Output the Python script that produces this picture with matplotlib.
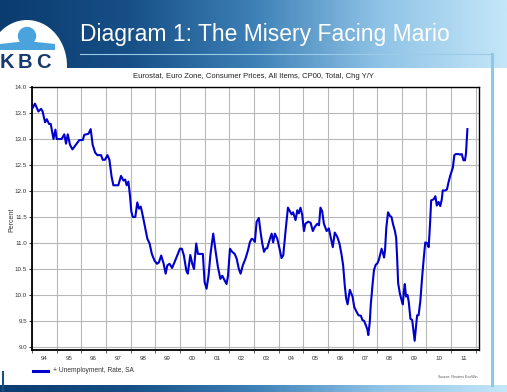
import numpy as np
import matplotlib
matplotlib.use("Agg")
import matplotlib.pyplot as plt
from matplotlib.colors import LinearSegmentedColormap
from matplotlib.patches import Circle, Rectangle, Ellipse, Polygon

plt.rcParams['font.family'] = ['Liberation Sans', 'DejaVu Sans']

# values (decimal year, percent)
years = [1994.03, 1994.12, 1994.26, 1994.37, 1994.43, 1994.53, 1994.60, 1994.69, 1994.76, 1994.87,
         1994.95, 1995.00, 1995.20, 1995.31, 1995.38, 1995.45, 1995.54, 1995.64, 1995.75, 1995.92,
         1996.06, 1996.12, 1996.29, 1996.38, 1996.46, 1996.56, 1996.65, 1996.80, 1996.87, 1996.96,
         1997.06, 1997.14, 1997.23, 1997.30, 1997.50, 1997.61, 1997.71, 1997.78, 1997.84, 1997.91,
         1997.97, 1998.03, 1998.09, 1998.19, 1998.27, 1998.34, 1998.41, 1998.46, 1998.57, 1998.68,
         1998.77, 1998.86, 1998.97, 1999.07, 1999.15, 1999.24, 1999.34, 1999.42, 1999.49, 1999.58,
         1999.68, 1999.78, 1999.89, 2000.00, 2000.08, 2000.16, 2000.26, 2000.32, 2000.42, 2000.50,
         2000.57, 2000.66, 2000.73, 2000.80, 2000.93, 2001.00, 2001.08, 2001.16, 2001.24, 2001.35,
         2001.45, 2001.54, 2001.64, 2001.72, 2001.78, 2001.89, 2001.95, 2002.03, 2002.12, 2002.22,
         2002.30, 2002.39, 2002.46, 2002.55, 2002.66, 2002.76, 2002.84, 2002.91, 2002.97, 2003.04,
         2003.11, 2003.20, 2003.27, 2003.34, 2003.41, 2003.47, 2003.54, 2003.65, 2003.72, 2003.78,
         2003.85, 2003.95, 2004.04, 2004.12, 2004.19, 2004.28, 2004.38, 2004.46, 2004.53, 2004.59,
         2004.69, 2004.76, 2004.82, 2004.89, 2004.96, 2005.03, 2005.09, 2005.20, 2005.30, 2005.39,
         2005.47, 2005.57, 2005.64, 2005.70, 2005.77, 2005.84, 2005.95, 2006.04, 2006.11, 2006.20,
         2006.28, 2006.38, 2006.47, 2006.55, 2006.62, 2006.68, 2006.74, 2006.80, 2006.89, 2007.00,
         2007.07, 2007.16, 2007.24, 2007.34, 2007.40, 2007.47, 2007.54, 2007.60, 2007.64, 2007.70,
         2007.74, 2007.81, 2007.87, 2007.94, 2008.01, 2008.07, 2008.14, 2008.18, 2008.23, 2008.28,
         2008.32, 2008.37, 2008.44, 2008.52, 2008.58, 2008.65, 2008.72, 2008.77, 2008.81, 2008.85,
         2008.92, 2008.99, 2009.04, 2009.08, 2009.12, 2009.17, 2009.23, 2009.28, 2009.35, 2009.42,
         2009.48, 2009.52, 2009.58, 2009.62, 2009.68, 2009.75, 2009.82, 2009.89, 2009.95, 2010.02,
         2010.09, 2010.15, 2010.19, 2010.29, 2010.36, 2010.42, 2010.49, 2010.56, 2010.62, 2010.66,
         2010.76, 2010.83, 2010.89, 2010.96, 2011.03, 2011.07, 2011.13, 2011.19, 2011.30, 2011.36,
         2011.43, 2011.50, 2011.56, 2011.60, 2011.66]
unemployment = [13.60, 13.68, 13.53, 13.58, 13.53, 13.32, 13.38, 13.29, 13.29, 13.00,
                13.18, 13.00, 13.00, 13.09, 12.91, 13.09, 12.89, 12.80, 12.87, 12.98,
                12.98, 13.08, 13.10, 13.19, 12.89, 12.74, 12.69, 12.69, 12.60, 12.60,
                12.69, 12.60, 12.27, 12.11, 12.11, 12.29, 12.20, 12.22, 12.11, 12.18,
                11.93, 11.60, 11.50, 11.50, 11.78, 11.66, 11.70, 11.60, 11.34, 11.08,
                10.99, 10.79, 10.66, 10.60, 10.63, 10.76, 10.60, 10.41, 10.57, 10.60,
                10.52, 10.63, 10.76, 10.89, 10.89, 10.76, 10.47, 10.41, 10.77, 10.60,
                10.50, 10.99, 10.79, 10.79, 10.79, 10.25, 10.12, 10.37, 10.79, 11.18,
                10.83, 10.54, 10.31, 10.37, 10.31, 10.21, 10.37, 10.89, 10.83, 10.79,
                10.70, 10.50, 10.41, 10.57, 10.70, 10.86, 11.02, 11.08, 11.07, 11.02,
                11.41, 11.48, 11.21, 10.99, 10.83, 10.89, 10.90, 11.08, 11.18, 11.01,
                11.18, 11.08, 10.89, 10.71, 10.76, 11.21, 11.68, 11.61, 11.55, 11.59,
                11.44, 11.63, 11.57, 11.68, 11.54, 11.23, 11.37, 11.41, 11.39, 11.23,
                11.31, 11.37, 11.34, 11.68, 11.61, 11.37, 11.23, 11.28, 11.12, 10.92,
                11.20, 11.12, 10.99, 10.79, 10.57, 10.21, 9.94, 9.82, 10.10, 9.97,
                9.77, 9.68, 9.61, 9.60, 9.52, 9.50, 9.42, 9.34, 9.23, 9.48,
                9.81, 10.19, 10.48, 10.58, 10.61, 10.68, 10.81, 10.89, 10.81, 10.72,
                10.87, 11.29, 11.59, 11.52, 11.50, 11.35, 11.23, 11.10, 10.71, 10.23,
                10.03, 9.90, 9.82, 10.06, 10.21, 9.97, 10.00, 9.87, 9.54, 9.52,
                9.29, 9.12, 9.42, 9.61, 9.61, 9.88, 10.32, 10.71, 11.01, 11.00,
                10.92, 11.42, 11.82, 11.84, 11.90, 11.72, 11.79, 11.71, 11.84, 12.01,
                12.01, 12.03, 12.16, 12.29, 12.39, 12.45, 12.69, 12.71, 12.71, 12.70,
                12.71, 12.59, 12.59, 12.71, 13.19]

year_labels = ['94', '95', '96', '97', '98', '99', '00', '01', '02', '03',
               '04', '05', '06', '07', '08', '09', '10', '11']
y_ticks = [9.0, 9.5, 10.0, 10.5, 11.0, 11.5, 12.0, 12.5, 13.0, 13.5, 14.0]

W, H = 507, 392
fig = plt.figure(figsize=(W / 100, H / 100), dpi=100)

# background layer in pixel coordinates
bg = fig.add_axes([0, 0, 1, 1], zorder=0)
bg.set_xlim(0, W)
bg.set_ylim(H, 0)
bg.axis('off')

banner = LinearSegmentedColormap.from_list('banner', ['#0b3c70', '#164f86', '#3d80b6', '#8fc3e6', '#c4e6f8'])
grad = np.linspace(0, 1, 300).reshape(1, -1)
bg.imshow(grad, cmap=banner, extent=[0, W, 68, 0], aspect='auto', zorder=1)
bg.imshow(grad, cmap=banner, extent=[0, W, H, 385], aspect='auto', zorder=1)

# logo area
bg.add_patch(Ellipse((27, 66), 80, 92, fc='white', ec='none', zorder=2))
bg.add_patch(Rectangle((0, 68), 70, 10, fc='white', ec='none', zorder=2))
bg.add_patch(Circle((27, 36), 9.2, fc='#4aa3dc', ec='none', zorder=3))
bg.add_patch(Polygon([(0, 44), (18, 42), (36, 42), (55, 44), (55, 50), (0, 50)],
                     fc='#4aa3dc', ec='none', zorder=3))
for letter, lx in zip('KBC', [-0.5, 17.5, 36]):
    bg.text(lx, 68, letter, fontsize=14.5, fontweight='bold', color='#17396b',
            ha='left', va='baseline', zorder=3)

bg.text(80, 41, 'Diagram 1: The Misery Facing Mario', fontsize=16.5, color='white',
        ha='left', va='baseline', zorder=3)
bg.plot([80, 492], [54, 54], color='#9ccbe8', lw=0.8, zorder=3)
bg.plot([492, 492], [54, 385], color='#8cc8e8', lw=2.2, zorder=3)
bg.plot([3, 3], [372, 392], color='#1b4f80', lw=1.5, zorder=3)

bg.text(253, 78, 'Eurostat, Euro Zone, Consumer Prices, All Items, CP00, Total, Chg Y/Y',
        fontsize=5.5, color='#222222', ha='center', va='baseline', zorder=3)
bg.text(12, 220, 'Percent', fontsize=5, color='#333333', rotation=90, ha='center', va='center', zorder=3)

# legend
bg.plot([33, 48], [371, 371], color='#0000cc', lw=2.2, zorder=3)
bg.text(53, 371, '+ Unemployment, Rate, SA', fontsize=4.8, color='#333333', ha='left', va='center', zorder=3)
bg.text(478, 377, 'Source: Reuters EcoWin', fontsize=2.6, color='#555555', ha='right', va='center', zorder=3)

# chart
ax = fig.add_axes([32 / W, 1 - 350 / H, (479 - 32) / W, (350 - 87) / H], zorder=2)
ax.plot(years, unemployment, color='#0000cc', lw=1.5, zorder=3)

ax.set_xlim(1994.0, 2012.13)
ax.set_ylim(9.0 - 3 / 52, 14.0)

ax.set_xticks(np.arange(1994, 2013))
ax.set_xticklabels([])
ax.set_xticks(np.arange(1994.5, 2012), minor=True)
ax.set_xticklabels(year_labels, minor=True)
ax.tick_params(axis='x', which='major', length=2, width=0.6, color='#444444')
ax.tick_params(axis='x', which='minor', length=0, labelsize=4.5, labelcolor='#333333', pad=4)

ax.set_yticks(y_ticks)
ax.set_yticklabels(['%.1f' % v for v in y_ticks])
ax.tick_params(axis='y', length=2, width=0.6, labelsize=4.5, labelcolor='#333333', pad=1.5)

ax.grid(True, which='major', color='#b8b8b8', lw=0.8)
ax.set_axisbelow(True)
for side in ax.spines.values():
    side.set_color('black')
    side.set_linewidth(1.0)
ax.spines['left'].set_linewidth(1.3)
ax.spines['bottom'].set_linewidth(1.3)

fig.savefig('out.png', dpi=100)
